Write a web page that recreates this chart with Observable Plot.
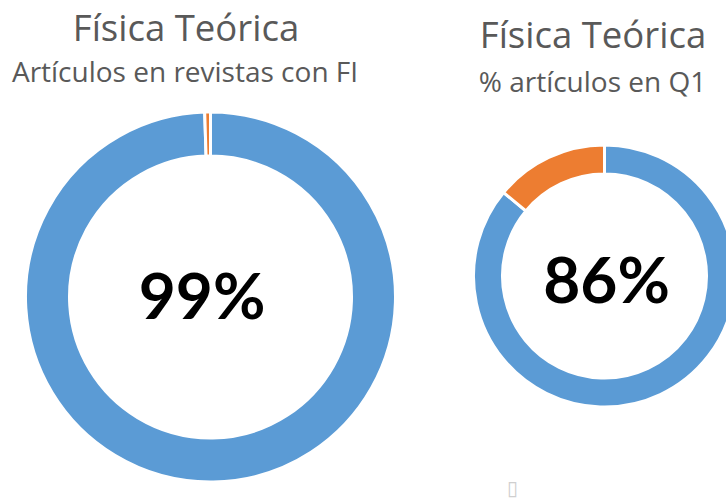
<!DOCTYPE html>
<html><head><meta charset="utf-8">
<script src="https://cdn.jsdelivr.net/npm/d3@7"></script>
<script src="https://cdn.jsdelivr.net/npm/@observablehq/plot@0.6"></script>
<style>body{margin:0;background:#fff;overflow:hidden}</style>
</head><body><div id="chart"></div>
<script>
// ---- data ----
const categories = ["Sí", "No"];
const fiValues = [99.5, 0.5];
const q1Values = [86, 14];
const titles = ["Física Teórica", "Física Teórica"];
const subtitles = ["Artículos en revistas con FI", "% artículos en Q1"];
const centerLabels = ["99%", "86%"];
const colors = ["#5B9BD5", "#ED7D31"];
const strayGlyph = ["▯"];

// ---- layout (pixels) ----
const W = 726, H = 500;
const donuts = [
  {values: fiValues, cx: 210.5, cy: 297, outer: 185, inner: 141},
  {values: q1Values, cx: 604.5, cy: 276, outer: 131, inner: 102}
];
const titlePos = [{x: 185.5, y: 29}, {x: 592.5, y: 36}];
const subPos = [{x: 184.5, y: 72.5}, {x: 592, y: 82.5}];
const labelPos = [{x: 201.5, y: 298}, {x: 606, y: 282}];

function donutMark(values, d) {
  const rows = categories.map((c, i) => ({cat: c, value: values[i]}));
  return (index, scales) => {
    const g = d3.create("svg:g")
      .attr("transform", `translate(${scales.x(d.cx)},${scales.y(d.cy)})`);
    const arcs = d3.pie().sort(null).value(r => r.value)(rows);
    const arc = d3.arc().innerRadius(d.inner).outerRadius(d.outer);
    g.selectAll("path").data(arcs).join("path")
      .attr("d", arc)
      .attr("fill", a => scales.color(a.data.cat))
      .attr("stroke", "#fff")
      .attr("stroke-width", 3)
      .attr("stroke-linejoin", "miter");
    return g.node();
  };
}

const font = "'Open Sans', sans-serif";
const numFont = "Lato, 'Open Sans', sans-serif";
const chart = Plot.plot({
  width: W, height: H,
  margin: 0,
  x: {domain: [0, W], range: [0, W], axis: null},
  y: {domain: [0, H], range: [0, H], axis: null},
  color: {domain: categories, range: colors},
  style: {fontFamily: font, background: "#fff"},
  marks: [
    ...donuts.map(d => donutMark(d.values, d)),
    Plot.text(titles, {x: (t, i) => titlePos[i].x, y: (t, i) => titlePos[i].y, text: d => d,
      fontSize: 36.5, fill: "#595959", fontFamily: font}),
    Plot.text(subtitles, {x: (t, i) => subPos[i].x, y: (t, i) => subPos[i].y, text: d => d,
      fontSize: 28, fill: "#595959", fontFamily: font}),
    Plot.text(centerLabels, {x: (t, i) => labelPos[i].x, y: (t, i) => labelPos[i].y, text: d => d,
      fontSize: 64, fontWeight: "bold", fill: "#000", fontFamily: numFont}),
    Plot.text(strayGlyph, {x: () => 512, y: () => 488, text: d => d,
      fontSize: 20, fill: "#cfcfcf", fontFamily: "DejaVu Sans"})
  ]
});
document.getElementById("chart").appendChild(chart);
</script>
</body></html>
